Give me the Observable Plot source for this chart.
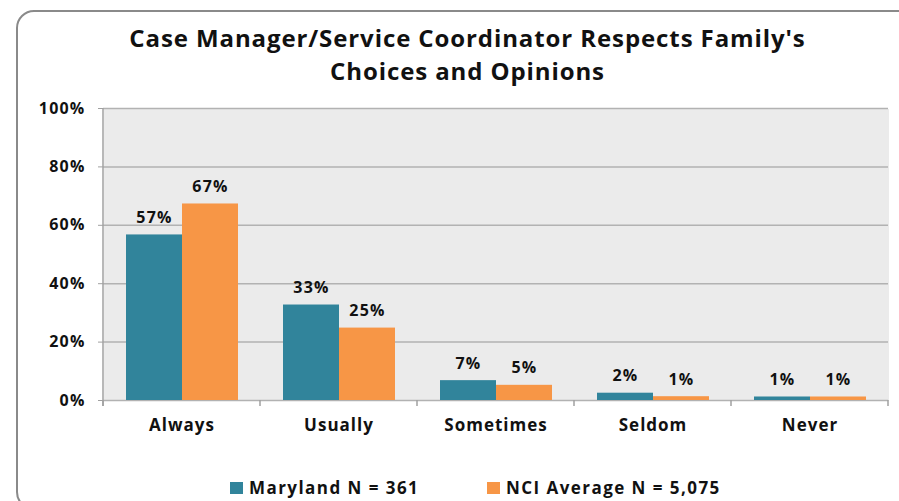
<!DOCTYPE html>
<html>
<head>
<meta charset="utf-8">
<script src="https://cdn.jsdelivr.net/npm/d3@7"></script>
<script src="https://cdn.jsdelivr.net/npm/@observablehq/plot@0.6"></script>
<style>
  html, body { margin: 0; padding: 0; background: #fff; }
  #wrap { position: relative; width: 899px; height: 501px; overflow: hidden; background: #fff;
          font-family: "Open Sans", sans-serif; color: #111; }
  #border { position: absolute; left: 15.5px; top: 9.5px; width: 1000px; height: 500px;
            border: 2px solid #8a8a8a; border-radius: 18px; box-sizing: border-box; }
  #title { position: absolute; left: 0; top: 21px; width: 935px; text-align: center;
           font-size: 24px; font-weight: 700; line-height: 33px; letter-spacing: 0.9px; }
  #chart { position: absolute; left: 0; top: 0; }
  .leg { position: absolute; top: 478px; font-size: 17px; font-weight: 700; line-height: 20px;
         white-space: nowrap; letter-spacing: 1.45px; }
  .sw { position: absolute; width: 13px; height: 12px; }
  #chart [aria-label="fx-axis tick label"] text { letter-spacing: 1px; }
  #chart [aria-label="y-axis tick label"] text { letter-spacing: 1.2px; }
  #chart [aria-label="text"] text { letter-spacing: 1.2px; }
</style>
</head>
<body>
<div id="wrap">
  <div id="border"></div>
  <div id="chart"></div>
  <div id="title"></div>
  <div id="legend"></div>
</div>
<script>
const titleLines = ["Case Manager/Service Coordinator Respects Family's", "Choices and Opinions"];
const categories = ["Always", "Usually", "Sometimes", "Seldom", "Never"];
const seriesNames = ["Maryland N = 361", "NCI Average N = 5,075"];
const maryland = [56.7, 32.7, 6.8, 2.5, 1.2];
const nciAverage = [67.3, 24.8, 5.2, 1.3, 1.2];
const marylandLabels = ["57%", "33%", "7%", "2%", "1%"];
const nciLabels = ["67%", "25%", "5%", "1%", "1%"];
const yTicks = [0, 20, 40, 60, 80, 100];
const colors = ["#31849B", "#F79646"];

const rows = categories.flatMap((c, i) => [
  {category: c, series: seriesNames[0], value: maryland[i], label: marylandLabels[i]},
  {category: c, series: seriesNames[1], value: nciAverage[i], label: nciLabels[i]}
]);

document.getElementById("title").innerHTML = titleLines.join("<br>");

const chart = Plot.plot({
  width: 899,
  height: 501,
  marginTop: 108,
  marginBottom: 101,
  marginLeft: 101,
  marginRight: 9,
  style: {fontFamily: "Open Sans, sans-serif", color: "#111", background: "transparent"},
  fx: {domain: categories, padding: 0, label: null},
  x: {domain: seriesNames, paddingInner: 0, paddingOuter: 0.387, axis: null},
  y: {domain: [0, 100], axis: null},
  color: {domain: seriesNames, range: colors},
  marks: [
    Plot.frame({fill: "#EBEBEB", stroke: "none", shapeRendering: "crispEdges"}),
    Plot.gridY(yTicks, {stroke: "#B2B2B2", strokeOpacity: 1, strokeWidth: 1.5}),
    Plot.barY(rows, {fx: "category", x: "series", y: "value", fill: "series"}),
    Plot.text(rows, {fx: "category", x: "series", y: "value", text: "label", dy: -17,
      fontSize: 16, fontWeight: "bold", fill: "#111"}),
    Plot.axisY(yTicks, {tickFormat: d => d + "%", tickSize: 5, tickPadding: 13,
      fontSize: 16, fontWeight: "bold", stroke: "#A0A0A0", fill: "#111", label: null}),
    Plot.axisFx({anchor: "bottom", tickSize: 0, tickPadding: 18, fontSize: 17,
      fontWeight: "bold", fill: "#111", label: null})
  ]
});

// axis line and category boundary ticks, positioned with Plot's own scales
const fxS = chart.scale("fx");
const yS = chart.scale("y");
const svg = d3.select(chart);
const y0 = yS.apply(0), yTop = yS.apply(100);
const bounds = categories.map(c => fxS.apply(c)).concat([fxS.apply(categories[categories.length - 1]) + fxS.bandwidth]);
const g = svg.append("g").attr("stroke", "#A0A0A0").attr("stroke-width", 1.5);
g.append("line").attr("x1", bounds[0]).attr("x2", bounds[0]).attr("y1", yTop).attr("y2", y0 + 6);
bounds.forEach(b => g.append("line").attr("x1", b).attr("x2", b).attr("y1", y0).attr("y2", y0 + 6));

document.getElementById("chart").appendChild(chart);

// legend
const legend = document.getElementById("legend");
const legX = [230, 487];
seriesNames.forEach((s, i) => {
  const sw = document.createElement("div");
  sw.className = "sw";
  sw.style.left = legX[i] + "px";
  sw.style.top = "482px";
  sw.style.background = colors[i];
  legend.appendChild(sw);
  const t = document.createElement("div");
  t.className = "leg";
  t.style.left = (legX[i] + 19) + "px";
  t.textContent = s;
  legend.appendChild(t);
});
</script>
</body>
</html>
